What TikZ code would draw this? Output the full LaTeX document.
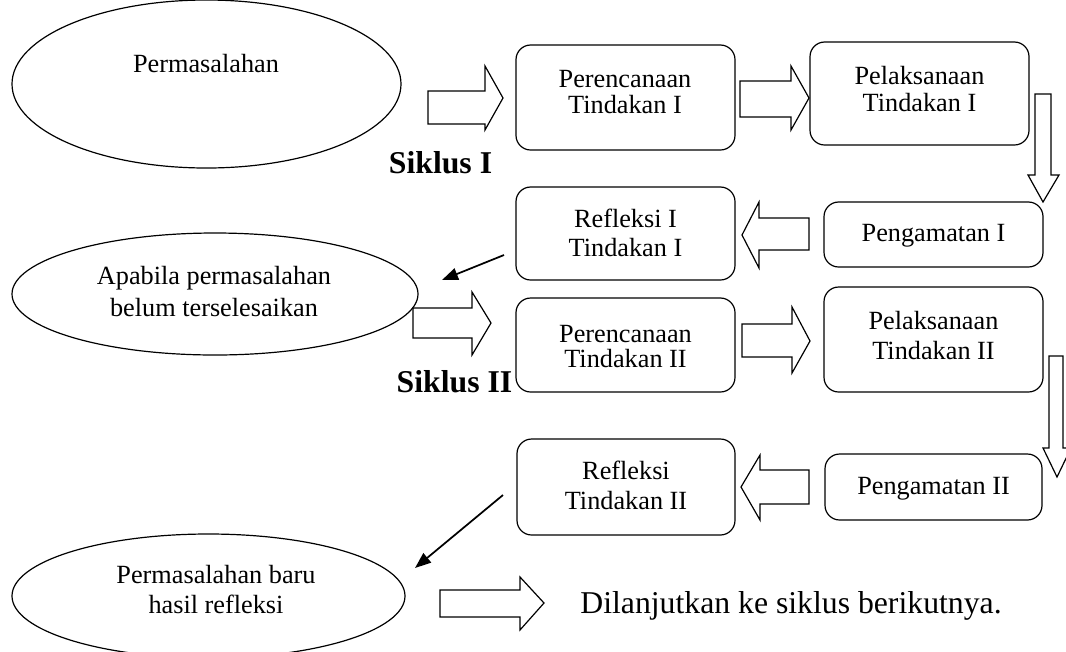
\documentclass[tikz,border=0pt]{standalone}
\usepackage{fontspec}
\setmainfont{Liberation Serif}
\usetikzlibrary{shapes.geometric,arrows.meta}
\begin{document}
\begin{tikzpicture}[x=0.75pt,y=-0.75pt,
  box/.style={draw, rounded corners=11pt, line width=0.9pt, inner sep=0pt, minimum width=164.25pt},
  oval/.style={draw, ellipse, line width=0.9pt, inner sep=0pt},
  txt/.style={anchor=base, inner sep=0pt, font=\fontsize{19.7}{20}\selectfont},
  big/.style={anchor=base, inner sep=0pt, font=\fontsize{23.8}{24}\selectfont},
  cyc/.style={anchor=base, inner sep=0pt, font=\fontsize{23.8}{24}\selectfont\bfseries},
  blk/.style={draw, line width=0.9pt, fill=white, line join=miter},
  thin/.style={line width=1.3pt, -{Triangle[length=12pt,width=9pt]}}
]
\useasboundingbox (0,0) rectangle (1066,651);

% ellipses
\node[oval, minimum width=291.75pt, minimum height=126pt] (e1) at (206.5,84) {};
\node[oval, minimum width=304.5pt, minimum height=91.5pt] (e2) at (215,294) {};
\node[oval, minimum width=294.75pt, minimum height=93pt] (e3) at (208.5,596) {};
\node[txt] (e1t) at (206,72) {Permasalahan};
\node[txt] (e2a) at (214,284) {Apabila permasalahan};
\node[txt] (e2b) at (214,316) {belum terselesaikan};
\node[txt] (e3a) at (216,583) {Permasalahan baru};
\node[txt] (e3b) at (216,613) {hasil refleksi};

% boxes
\node[box, minimum height=78.75pt] (pt1) at (625.5,97.5) {};
\node[box, minimum height=77.25pt] (pl1) at (919.5,93.5) {};
\node[box, minimum height=69.75pt] (rf1) at (625.5,233.5) {};
\node[box, minimum height=48.75pt] (pg1) at (933.5,234.5) {};
\node[box, minimum height=70.5pt] (pt2) at (625.5,345) {};
\node[box, minimum height=78.75pt] (pl2) at (933.5,339.5) {};
\node[box, minimum width=163.5pt, minimum height=72pt] (rf2) at (626,487) {};
\node[box, minimum width=162.75pt, minimum height=49.5pt] (pg2) at (933.5,487) {};

\node[txt] (pt1a) at (625,87) {Perencanaan};
\node[txt] (pt1b) at (625,113) {Tindakan I};
\node[txt] (pl1a) at (919.5,84) {Pelaksanaan};
\node[txt] (pl1b) at (919.5,111) {Tindakan I};
\node[txt] (rf1a) at (625.5,227) {Refleksi I};
\node[txt] (rf1b) at (625.5,256) {Tindakan I};
\node[txt] (pg1a) at (933.5,241) {Pengamatan I};
\node[txt] (pt2a) at (625.5,342) {Perencanaan};
\node[txt] (pt2b) at (625.5,367) {Tindakan II};
\node[txt] (pl2a) at (933.5,329) {Pelaksanaan};
\node[txt] (pl2b) at (933.5,359) {Tindakan II};
\node[txt] (rf2a) at (626,479) {Refleksi};
\node[txt] (rf2b) at (626,509) {Tindakan II};
\node[txt] (pg2a) at (933.5,494) {Pengamatan II};

\node[cyc] (s1) at (440.5,173) {Siklus I};
\node[cyc] (s2) at (454.5,392) {Siklus II};
\node[big] (lanjut) at (791,613) {Dilanjutkan ke siklus berikutnya.};

% block arrows
\draw[blk] (428,91) -- (485,91) -- (485,66) -- (503,98) -- (485,130) -- (485,124) -- (428,124) -- cycle;
\draw[blk] (740,81) -- (791,81) -- (791,66) -- (809,98) -- (791,130) -- (791,117) -- (740,117) -- cycle;
\draw[blk] (1035,94) -- (1051,94) -- (1051,175) -- (1059,175) -- (1043,202) -- (1028,175) -- (1035,175) -- cycle;
\draw[blk] (809,218) -- (759,218) -- (759,202) -- (742,235) -- (759,268) -- (759,250) -- (809,250) -- cycle;
\draw[blk] (413,308) -- (472,308) -- (472,292) -- (491,323) -- (472,355) -- (472,338) -- (413,338) -- cycle;
\draw[blk] (742,324) -- (792,324) -- (792,307) -- (810,341) -- (792,373) -- (792,357) -- (742,357) -- cycle;
\draw[blk] (1049,356) -- (1063,356) -- (1063,448) -- (1071,448) -- (1057,477) -- (1043,448) -- (1049,448) -- cycle;
\draw[blk] (809,470) -- (760,470) -- (760,455) -- (741,487) -- (760,520) -- (760,504) -- (809,504) -- cycle;
\draw[blk] (440,590) -- (520,590) -- (520,577) -- (544,603) -- (520,630) -- (520,617) -- (440,617) -- cycle;

% thin arrows
\coordinate (t1s) at (504,255);
\coordinate (t1e) at (442,280);
\coordinate (t2s) at (503,495);
\coordinate (t2e) at (415,568);
\draw[thin] (t1s) -- (t1e);
\draw[thin] (t2s) -- (t2e);
\end{tikzpicture}
\end{document}
